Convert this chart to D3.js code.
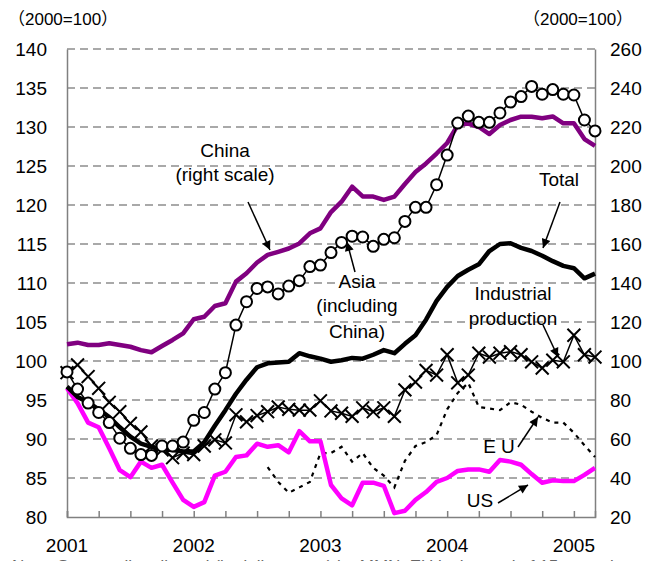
<!DOCTYPE html>
<html>
<head>
<meta charset="utf-8">
<script src="https://cdn.jsdelivr.net/npm/d3@7"></script>
<style>
  body { margin: 0; background: #fff; }
  text { font-family: "Liberation Sans", Arial, sans-serif; }
</style>
</head>
<body>
<div id="app"></div>
<script>
// monthly, Jan 2001 - Mar 2005
const years = ["2001", "2002", "2003", "2004", "2005"];
const leftTicks = [80, 85, 90, 95, 100, 105, 110, 115, 120, 125, 130, 135, 140];
const rightTicks = [20, 40, 60, 80, 100, 120, 140, 160, 180, 200, 220, 240, 260];

// left scale
const asia = [98.6,96.4,94.6,93.4,92.1,90.1,88.8,88.0,87.9,89.1, 89.1,89.6,92.4,93.4,96.4,98.5,104.6,107.6,109.3,109.5,
  108.6,109.6,110.3,112.1,112.3,113.9,115.2,116.0,115.9,114.7, 115.6,115.8,117.9,119.7,119.7,122.6,126.4,130.5,131.4,130.6,
  130.6,131.8,133.2,133.9,135.2,134.2,134.8,134.2,134.1,130.9, 129.5];
const total = [96.7,95.4,94.7,93.8,92.8,91.5,90.3,89.4,89.0,88.7, 88.6,88.4,88.4,89.6,91.7,93.7,95.8,97.6,99.2,99.7,
  99.8,99.9,101.0,100.6,100.3,99.9,100.1,100.4,100.3,100.8, 101.4,101.0,102.2,103.3,105.3,107.7,109.5,110.9,111.7,112.4,
  114.1,115.0,115.1,114.5,114.1,113.5,112.8,112.2,111.9,110.6, 111.2];
const industrial = [98.5,99.5,98.0,96.5,94.7,93.5,92.0,90.9,89.1,88.6, 87.6,88.2,88.0,89.1,89.9,89.5,93.1,92.2,93.0,93.5,
  94.1,93.8,93.7,93.7,94.9,93.6,93.3,92.9,94.0,93.5, 94.0,92.9,96.3,97.3,98.8,98.2,100.8,97.2,98.2,101.0,
  100.5,101.0,101.2,100.8,99.9,99.1,100.1,99.9,103.3,100.8, 100.5];
const us = [96.5,94.6,92.1,91.5,88.8,86.0,85.1,87.1,86.3,86.7, 84.4,82.2,81.3,81.9,85.3,85.8,87.7,87.9,89.4,89.0,
  89.2,88.3,91.0,89.7,89.7,84.1,82.4,81.5,84.4,84.4, 84.0,80.5,80.8,82.2,83.2,84.5,85.0,85.9,86.1,86.1,
  85.8,87.3,87.1,86.7,85.5,84.4,84.7,84.6,84.6,85.4, 86.3];
const eu = [null,null,null,null,null,null,null,null,null,null, null,null,null,null,null,null,null,null,null,86.4,
  84.5,83.1,83.8,84.5,88.2,88.2,89.0,87.1,88.2,86.3, 85.3,83.8,87.2,89.1,89.6,90.5,93.8,95.9,97.2,94.1,
  93.9,93.7,94.7,94.4,93.5,92.7,92.1,92.1,90.8,89.2, 87.7];
// right scale
const china = [108.6,109.4,108.2,108.2,109.1,108.2,107.3,105.6,104.5,107.7, 110.8,114.2,121.4,122.7,128.2,129.6,140.7,145,150.5,154.4,
  156,157.7,160.3,165.5,168,176.4,181.7,189.4,184.4,184.3, 182.6,184.3,190.8,196.9,201.3,206.4,211.8,221,221.8,220,
  216.4,221,223.6,225.3,225.3,224.5,225.4,221.9,221.9,213.8, 210.3];

const W = 655, H = 561;
const margin = { top: 49, right: 60, bottom: 44, left: 67 };
const width = W - margin.left - margin.right;   // 528
const height = H - margin.top - margin.bottom;  // 468

const x = d3.scaleLinear().domain([0, asia.length - 1]).range([0, width]);
const yL = d3.scaleLinear().domain([80, 140]).range([height, 0]);
const yR = d3.scaleLinear().domain([20, 260]).range([height, 0]);

const svg = d3.select("#app").append("svg")
  .attr("width", W).attr("height", H)
  .style("background", "#fff");

const defs = svg.append("defs");
defs.append("marker")
  .attr("id", "arrow")
  .attr("viewBox", "0 0 10 10")
  .attr("refX", 10).attr("refY", 5)
  .attr("markerWidth", 11).attr("markerHeight", 9)
  .attr("markerUnits", "userSpaceOnUse")
  .attr("orient", "auto")
  .append("path").attr("d", "M0,0L10,5L0,10z").attr("fill", "#000");

const g = svg.append("g").attr("transform", `translate(${margin.left},${margin.top})`);

// gridlines
g.selectAll(".grid").data(leftTicks.filter(d => d > 80)).enter()
  .append("line")
  .attr("x1", 0).attr("x2", width)
  .attr("y1", d => yL(d)).attr("y2", d => yL(d))
  .attr("stroke", "#555").attr("stroke-width", 1.2)
  .attr("stroke-dasharray", "8,5");

// axes
const axL = g.append("g").call(d3.axisLeft(yL).tickValues(leftTicks).tickSize(0).tickPadding(20));
const axR = g.append("g").attr("transform", `translate(${width},0)`)
  .call(d3.axisRight(yR).tickValues(rightTicks).tickSize(0).tickPadding(15));
[axL, axR].forEach(a => {
  a.select(".domain").attr("stroke", "#808080").attr("stroke-width", 1.5);
  a.selectAll("text").attr("font-size", 19).attr("fill", "#000")
    .style("font-family", "'Liberation Sans', Arial, sans-serif");
});

const axB = g.append("g").attr("transform", `translate(0,${height})`)
  .call(d3.axisBottom(x).tickValues(d3.range(0, asia.length, 3)).tickSize(-6).tickFormat(""));
axB.select(".domain").attr("stroke", "#808080").attr("stroke-width", 1.5);
axB.selectAll(".tick line").attr("stroke", "#808080").attr("stroke-width", 1.5);

g.selectAll(".year").data(years).enter().append("text")
  .attr("x", (d, i) => x(i * 12))
  .attr("y", height + 35)
  .attr("text-anchor", "middle")
  .attr("font-size", 19)
  .text(d => d);

svg.append("text").attr("x", 8).attr("y", 25).attr("font-size", 17)
  .style("font-family", "'Liberation Sans', 'Noto Sans CJK JP', sans-serif")
  .text("（2000=100）");
svg.append("text").attr("x", 523).attr("y", 25).attr("font-size", 17)
  .style("font-family", "'Liberation Sans', 'Noto Sans CJK JP', sans-serif")
  .text("（2000=100）");

// series
const lineL = d3.line().defined(d => d != null).x((d, i) => x(i)).y(d => yL(d));
const lineR = d3.line().defined(d => d != null).x((d, i) => x(i)).y(d => yR(d));

g.append("path").datum(eu).attr("d", lineL)
  .attr("fill", "none").attr("stroke", "#000").attr("stroke-width", 2.2)
  .attr("stroke-dasharray", "4,5");

g.append("path").datum(us).attr("d", lineL)
  .attr("fill", "none").attr("stroke", "#ff00ff").attr("stroke-width", 4.5)
  .attr("stroke-linejoin", "round");

g.append("path").datum(china).attr("d", lineR)
  .attr("fill", "none").attr("stroke", "#800080").attr("stroke-width", 4.5)
  .attr("stroke-linejoin", "round");

g.append("path").datum(total).attr("d", lineL)
  .attr("fill", "none").attr("stroke", "#000").attr("stroke-width", 4.5)
  .attr("stroke-linejoin", "round");

g.append("path").datum(industrial).attr("d", lineL)
  .attr("fill", "none").attr("stroke", "#000").attr("stroke-width", 1.5);
const cross = d3.symbol().type(d3.symbolX).size(110);
g.selectAll(".ip").data(industrial).enter().append("path")
  .attr("transform", (d, i) => `translate(${x(i)},${yL(d)})`)
  .attr("d", cross)
  .attr("fill", "none").attr("stroke", "#000").attr("stroke-width", 2);

g.append("path").datum(asia).attr("d", lineL)
  .attr("fill", "none").attr("stroke", "#000").attr("stroke-width", 1.5);
g.selectAll(".asia").data(asia).enter().append("circle")
  .attr("cx", (d, i) => x(i)).attr("cy", d => yL(d)).attr("r", 5.5)
  .attr("fill", "#fff").attr("stroke", "#000").attr("stroke-width", 2);

// annotations
const labels = [
  { t: "China", x: 225, y: 157 },
  { t: "(right scale)", x: 225, y: 181 },
  { t: "Asia", x: 357, y: 288 },
  { t: "(including", x: 357, y: 312 },
  { t: "China)", x: 357, y: 338 },
  { t: "Total", x: 559, y: 186 },
  { t: "Industrial", x: 513, y: 300 },
  { t: "production", x: 513, y: 325 },
  { t: "E U", x: 499, y: 453 },
  { t: "US", x: 480, y: 507 }
];
svg.selectAll(".lbl").data(labels).enter().append("text")
  .attr("x", d => d.x).attr("y", d => d.y)
  .attr("text-anchor", "middle").attr("font-size", 19)
  .text(d => d.t);

const arrows = [
  [248, 202, 270, 250],
  [355, 272, 347, 242],
  [560, 202, 543, 248],
  [543, 325, 558, 357],
  [518, 447, 538, 417],
  [498, 503, 528, 485]
];
svg.selectAll(".arr").data(arrows).enter().append("line")
  .attr("x1", d => d[0]).attr("y1", d => d[1])
  .attr("x2", d => d[2]).attr("y2", d => d[3])
  .attr("stroke", "#000").attr("stroke-width", 1.5)
  .attr("marker-end", "url(#arrow)");

// note, cut off at the bottom edge
svg.append("text").attr("x", 12).attr("y", 572).attr("font-size", 17).attr("fill", "#666")
  .text("Note: Seasonally adjusted (in dollar terms) by MMN. EU is the total of 15 countries.");
</script>
</body>
</html>
